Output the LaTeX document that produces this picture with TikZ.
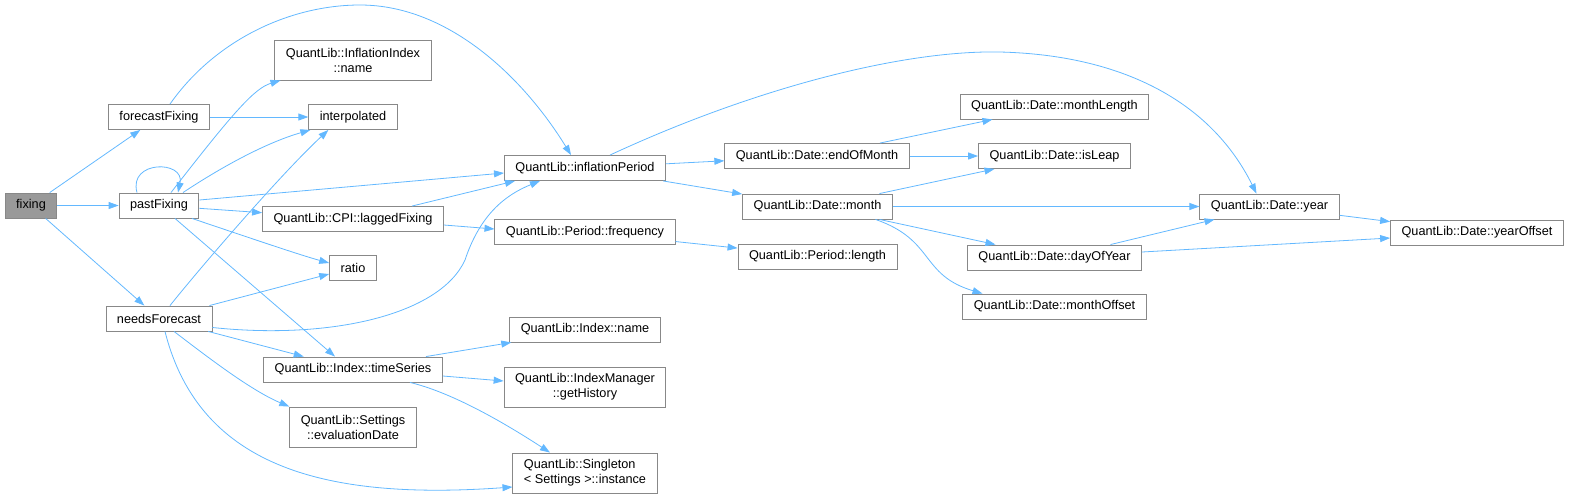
\documentclass[tikz,border=0pt]{standalone}
\usepackage{fontspec}
\setmainfont{Liberation Sans}
\usetikzlibrary{arrows.meta}

\definecolor{edgeblue}{HTML}{63B8FF}
\definecolor{boxgray}{HTML}{888888}
\definecolor{rootgray}{HTML}{999999}

\begin{document}
\begin{tikzpicture}[x=1pt,y=-1pt,
  fn/.style={draw=boxgray, line width=0.9pt, fill=white, inner xsep=11pt, inner ysep=2pt,
    minimum height=25pt, font=\fontsize{12.7}{15}\selectfont},
  fntwo/.style={fn, minimum height=40pt, align=center},
  root/.style={fn, fill=rootgray},
  call/.style={draw=edgeblue, line width=0.8pt, -{Triangle[length=10pt,width=7pt]}}]
  \useasboundingbox (0,0) rectangle (1571,499);
  \node[root] (fixing) at (31,205.5) {fixing};
  \node[fn] (forecastFixing) at (159,117) {forecastFixing};
  \node[fn] (pastFixing) at (159,205.5) {pastFixing};
  \node[fn] (needsForecast) at (159,318.5) {needsForecast};
  \node[fntwo] (inflName) at (353,60) {QuantLib::InflationIndex\\::name};
  \node[fn] (interpolated) at (353,117) {interpolated};
  \node[fn] (laggedFixing) at (353,219) {QuantLib::CPI::laggedFixing};
  \node[fn] (ratio) at (353,268) {ratio};
  \node[fn] (timeSeries) at (353,369.5) {QuantLib::Index::timeSeries};
  \node[fntwo] (evalDate) at (353,427) {QuantLib::Settings\\::evaluationDate};
  \node[fn] (inflationPeriod) at (585,168) {QuantLib::inflationPeriod};
  \node[fn] (frequency) at (585,232) {QuantLib::Period::frequency};
  \node[fn] (indexName) at (585,329.5) {QuantLib::Index::name};
  \node[fntwo] (getHistory) at (585,387) {QuantLib::IndexManager\\::getHistory};
  \node[fntwo, align=left] (instance) at (585,473) {QuantLib::Singleton\\< Settings >::instance};
  \node[fn] (endOfMonth) at (817,156) {QuantLib::Date::endOfMonth};
  \node[fn] (month) at (817.5,206.5) {QuantLib::Date::month};
  \node[fn] (perLength) at (817.5,256.5) {QuantLib::Period::length};
  \node[fn] (monthLength) at (1054.5,106.5) {QuantLib::Date::monthLength};
  \node[fn] (isLeap) at (1054.5,156) {QuantLib::Date::isLeap};
  \node[fn] (dayOfYear) at (1054.5,257.5) {QuantLib::Date::dayOfYear};
  \node[fn] (monthOffset) at (1054.5,306.5) {QuantLib::Date::monthOffset};
  \node[fn] (year) at (1269.5,206.5) {QuantLib::Date::year};
  \node[fn] (yearOffset) at (1477,232.5) {QuantLib::Date::yearOffset};

  \draw[call] (fixing) -- (forecastFixing);
  \draw[call] (fixing) -- (pastFixing);
  \draw[call] (fixing) -- (needsForecast);
  \draw[call] ([xshift=11pt]forecastFixing.north) .. controls (215,40) and (290,5) .. (360,5)
    .. controls (450,5) and (525,80) .. ([xshift=-14pt]inflationPeriod.north);
  \draw[call] (forecastFixing) -- (interpolated);
  \draw[call] ([xshift=-22pt]pastFixing.north) .. controls (128,160) and (185,160) .. ([xshift=19pt]pastFixing.north);
  \draw[call] ([xshift=12pt]pastFixing.north) .. controls (235,110) and (255,88) .. ([xshift=6pt]inflName.south west);
  \draw[call] ([xshift=24pt]pastFixing.north) .. controls (220,168) and (265,143) .. ([xshift=2pt]interpolated.south west);
  \draw[call] ([yshift=5.5pt]pastFixing.east) -- ([yshift=-5pt]inflationPeriod.west);
  \draw[call] (pastFixing) -- (laggedFixing);
  \draw[call] ([xshift=33pt]pastFixing.south) .. controls (250,238) and (300,255) .. ([yshift=5pt]ratio.west);
  \draw[call] ([xshift=16pt]pastFixing.south) -- ([xshift=-18pt]timeSeries.north);
  \draw[call] ([xshift=11pt]needsForecast.north) .. controls (200,268) and (280,175) .. ([xshift=20pt]interpolated.south west);
  \draw[call] ([xshift=-3pt]needsForecast.north east) -- ([yshift=-6pt]ratio.west);
  \draw[call] ([yshift=-9pt]needsForecast.east) .. controls (330,340) and (440,315) .. (465,260)
    .. controls (480,215) and (505,195) .. ([xshift=-45pt]inflationPeriod.south);
  \draw[call] (needsForecast) -- (timeSeries);
  \draw[call] ([xshift=15pt]needsForecast.south) .. controls (205,355) and (250,390) .. (evalDate.north west);
  \draw[call] ([xshift=6pt]needsForecast.south) .. controls (200,470) and (330,500) .. ([yshift=-14pt]instance.west);
  \draw[call] ([xshift=59pt]laggedFixing.north) -- ([xshift=-70pt]inflationPeriod.south);
  \draw[call] ([yshift=-6pt]laggedFixing.east) -- ([yshift=3pt]frequency.west);
  \draw[call] (inflationPeriod) -- (endOfMonth);
  \draw[call] (inflationPeriod) -- (month);
  \draw[call] ([xshift=25pt]inflationPeriod.north) .. controls (750,90) and (900,50) .. (1000,52)
    .. controls (1120,55) and (1210,100) .. ([xshift=-13pt]year.north);
  \draw[call] (frequency) -- (perLength);
  \draw[call] ([xshift=63pt]endOfMonth.north) -- ([xshift=-62pt]monthLength.south);
  \draw[call] (endOfMonth) -- (isLeap);
  \draw[call] ([xshift=62pt]month.north) -- ([xshift=-60pt]isLeap.south);
  \draw[call] (month) -- (year);
  \draw[call] ([xshift=62pt]month.south) -- ([xshift=-59pt]dayOfYear.north);
  \draw[call] ([xshift=58pt]month.south) .. controls (935,240) and (920,275) .. ([xshift=-72pt]monthOffset.north);
  \draw[call] ([xshift=56pt]dayOfYear.north) -- ([xshift=-55pt]year.south);
  \draw[call] ([yshift=5.5pt]dayOfYear.east) -- ([yshift=-5.5pt]yearOffset.west);
  \draw[call] (year) -- (yearOffset);
  \draw[call] ([xshift=73pt]timeSeries.north) -- ([xshift=2pt]indexName.south west);
  \draw[call] ([yshift=-6.5pt]timeSeries.east) -- ([yshift=6pt]getHistory.west);
  \draw[call] ([xshift=57pt]timeSeries.south) .. controls (450,392) and (500,420) .. ([xshift=-35pt]instance.north);
\end{tikzpicture}
\end{document}
